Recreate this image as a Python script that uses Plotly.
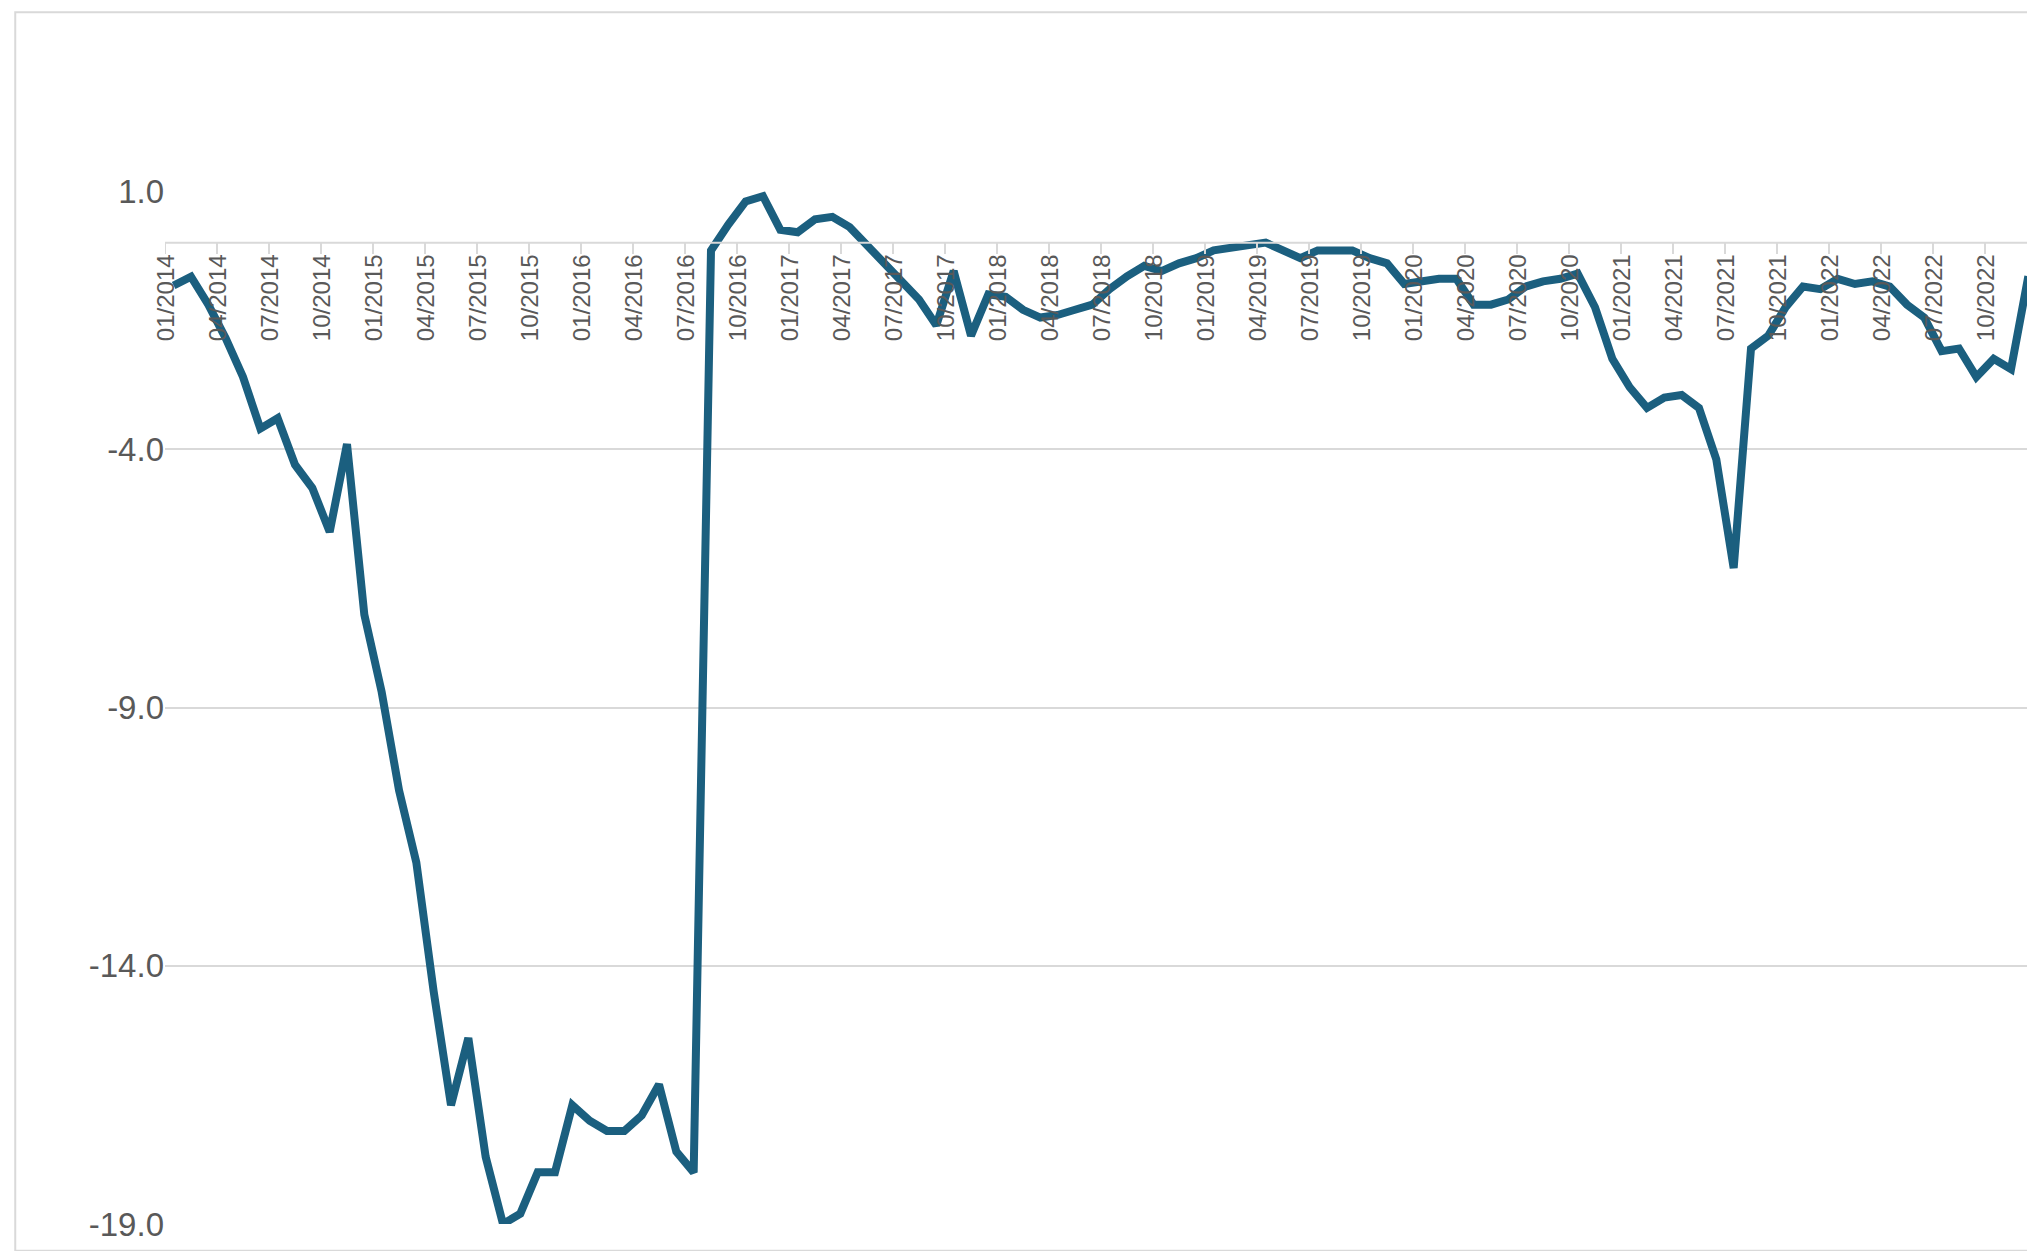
import plotly.graph_objects as go

values = [-0.83,-0.66,-1.2,-1.85,-2.6,-3.6,-3.4,-4.3,-4.75,-5.6,-3.9,-7.2,
-8.7,-10.6,-12.0,-14.5,-16.7,-15.4,-17.7,-19.0,-18.8,-18.0,-18.0,-16.7,
-17.0,-17.2,-17.2,-16.9,-16.3,-17.6,-18.0,-0.15,0.35,0.8,0.9,0.25,
0.2,0.45,0.5,0.3,-0.05,-0.4,-0.7,-1.1,-1.6,-0.55,-1.8,-1.0,
-1.05,-1.3,-1.45,-1.4,-1.3,-1.2,-0.9,-0.65,-0.45,-0.55,-0.4,-0.3,
-0.15,-0.1,-0.05,0.0,-0.15,-0.3,-0.15,-0.15,-0.15,-0.3,-0.4,-0.8,
-0.75,-0.7,-0.7,-1.2,-1.2,-1.1,-0.85,-0.75,-0.7,-0.6,-1.25,-2.25,
-2.8,-3.2,-3.0,-2.95,-3.2,-4.2,-6.3,-2.05,-1.8,-1.25,-0.85,-0.9,
-0.7,-0.8,-0.75,-0.85,-1.2,-1.45,-2.1,-2.05,-2.6,-2.25,-2.45,-0.65]
months = [f"{m:02d}/{y}" for y in range(2014, 2023) for m in range(1, 13)]
tick_labels = [months[i] for i in range(0, len(months), 3)]
y_ticks = [-19, -14, -9, -4, 1]

fig = go.Figure()
fig.add_trace(go.Scatter(x=list(range(len(values))), y=values, mode="lines",
                         line=dict(color="#1b5f7f", width=8), hoverinfo="skip"))

shapes = [dict(type="line", xref="x", yref="y", x0=-0.5, x1=len(values)-0.5, y0=0, y1=0,
               line=dict(color="#d9d9d9", width=2))]
annotations = []
for k, lab in enumerate(tick_labels):
    xp = k*3 - 0.5
    shapes.append(dict(type="line", xref="x", yref="y", x0=xp, x1=xp, y0=0, y1=-0.22,
                       line=dict(color="#d9d9d9", width=2)))
    annotations.append(dict(x=xp, y=0, xref="x", yref="y", text=lab, showarrow=False,
                            textangle=-90, yanchor="top", xanchor="center", yshift=-10,
                            font=dict(size=24, color="#595959", family="Liberation Sans")))
shapes.append(dict(type="rect", xref="paper", yref="paper", x0=-0.080, x1=1.0, y0=-0.026, y1=1.173,
                   line=dict(color="#d9d9d9", width=2), layer="below"))

fig.update_layout(
    width=2035, height=1251, plot_bgcolor="white", paper_bgcolor="white",
    margin=dict(l=157, r=6, t=183, b=35), showlegend=False,
    shapes=shapes, annotations=annotations,
    xaxis=dict(range=[-0.5, len(values)-0.5], showticklabels=False, showgrid=False, zeroline=False),
    yaxis=dict(range=[-19, 1], tickvals=y_ticks, ticktext=[f"{v:.1f}" for v in y_ticks],
               showgrid=True, gridcolor="#d9d9d9", gridwidth=2, zeroline=False,
               tickfont=dict(size=33, color="#595959", family="Liberation Sans"), ticks="", ticklen=0),
)
fig.write_html("out.html")
